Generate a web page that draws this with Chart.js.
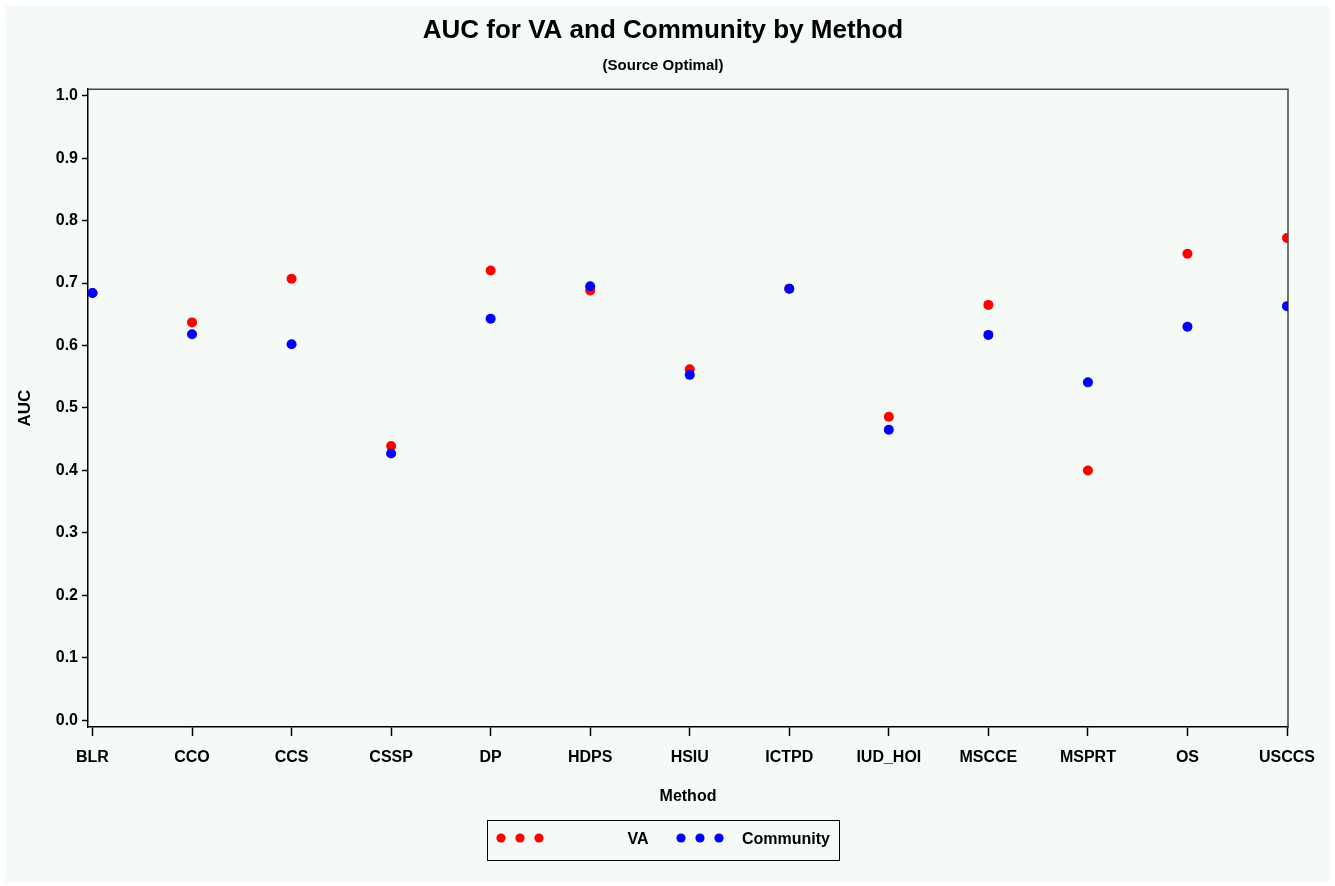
<!DOCTYPE html>
<html>
<head>
<meta charset="utf-8">
<title>AUC for VA and Community by Method</title>
<script src="https://cdn.jsdelivr.net/npm/chart.js@4.4.1/dist/chart.umd.min.js"></script>
<style>
  html, body { margin: 0; padding: 0; background: #ffffff; }
  #wrap { width: 1335px; height: 886px; }
</style>
</head>
<body>
<div id="wrap"><canvas id="grafica" width="1335" height="886"></canvas></div>
<script>
// data
const methods = ['BLR', 'CCO', 'CCS', 'CSSP', 'DP', 'HDPS', 'HSIU', 'ICTPD', 'IUD_HOI', 'MSCCE', 'MSPRT', 'OS', 'USCCS'];
const vaAuc = [0.684, 0.637, 0.707, 0.439, 0.720, 0.688, 0.562, 0.691, 0.486, 0.665, 0.400, 0.747, 0.772];
const communityAuc = [0.684, 0.618, 0.602, 0.427, 0.643, 0.695, 0.553, 0.691, 0.465, 0.617, 0.541, 0.630, 0.663];
const yTicks = [0.0, 0.1, 0.2, 0.3, 0.4, 0.5, 0.6, 0.7, 0.8, 0.9, 1.0];
const seriesNames = ['VA', 'Community'];
const seriesColors = ['#ff0000', '#0000ff'];

const FONT = "'Liberation Sans', Arial, Helvetica, sans-serif";
const BG = '#f6faf7';

const toPoints = (vals) => vals.map((v, i) => ({ x: i, y: v }));

// page background with the thin white frame
const backdrop = {
  id: 'backdrop',
  beforeDraw(chart) {
    const ctx = chart.ctx;
    ctx.save();
    ctx.fillStyle = '#ffffff';
    ctx.fillRect(0, 0, chart.width, chart.height);
    ctx.fillStyle = BG;
    ctx.fillRect(5, 6, chart.width - 10, chart.height - 10);
    ctx.restore();
  },
  beforeDatasetsDraw(chart) {
    // top and right edges of the frame
    const { ctx, chartArea: a } = chart;
    ctx.save();
    ctx.strokeStyle = '#444444';
    ctx.lineWidth = 1.5;
    ctx.beginPath();
    ctx.moveTo(a.left, a.top);
    ctx.lineTo(a.right, a.top);
    ctx.lineTo(a.right, a.bottom);
    ctx.stroke();
    ctx.restore();
  }
};

// boxed legend under the axis: three markers then the name
const legendBox = {
  id: 'legendBox',
  afterDraw(chart) {
    const ctx = chart.ctx;
    const x0 = 487, y0 = 820, w = 352, h = 40;
    const cy = y0 + 18;
    ctx.save();
    ctx.fillStyle = BG;
    ctx.fillRect(x0, y0, w, h);
    ctx.strokeStyle = '#000000';
    ctx.lineWidth = 1;
    ctx.strokeRect(x0 + 0.5, y0 + 0.5, w, h);
    const dotStarts = [x0 + 14, x0 + 194];
    dotStarts.forEach((sx, k) => {
      ctx.fillStyle = seriesColors[k];
      for (let j = 0; j < 3; j++) {
        ctx.beginPath();
        ctx.arc(sx + j * 19, cy, 4.6, 0, Math.PI * 2);
        ctx.fill();
      }
    });
    ctx.fillStyle = '#000000';
    ctx.font = 'bold 16px ' + FONT;
    ctx.textBaseline = 'middle';
    ctx.textAlign = 'center';
    ctx.fillText(seriesNames[0], x0 + 151, cy + 2);
    ctx.textAlign = 'left';
    ctx.fillText(seriesNames[1], x0 + 255, cy + 2);
    ctx.restore();
  }
};

const ctx = document.getElementById('grafica').getContext('2d');
const chart = new Chart(ctx, {
  type: 'scatter',
  data: {
    datasets: [
      {
        label: seriesNames[0],
        data: toPoints(vaAuc),
        backgroundColor: seriesColors[0],
        borderWidth: 0,
        pointRadius: 5,
        pointHoverRadius: 5,
        order: 1
      },
      {
        label: seriesNames[1],
        data: toPoints(communityAuc),
        backgroundColor: seriesColors[1],
        borderWidth: 0,
        pointRadius: 5,
        pointHoverRadius: 5,
        order: 0
      }
    ]
  },
  options: {
    responsive: false,
    animation: false,
    layout: { padding: { left: 0, right: 9, top: 0, bottom: 69 } },
    plugins: {
      legend: { display: false },
      tooltip: { enabled: false },
      title: {
        display: true,
        text: 'AUC for VA and Community by Method',
        color: '#000000',
        font: { family: FONT, size: 26, weight: 'bold' },
        padding: { top: 15, bottom: 11 }
      },
      subtitle: {
        display: true,
        text: '(Source Optimal)',
        color: '#000000',
        font: { family: FONT, size: 15, weight: 'bold' },
        padding: { top: 0, bottom: 14 }
      }
    },
    scales: {
      x: {
        type: 'linear',
        min: -0.045,
        max: 12.01,
        afterBuildTicks: (scale) => { scale.ticks = methods.map((m, i) => ({ value: i })); },
        afterFit: (scale) => { scale.height = 90; },
        grid: { display: true, drawOnChartArea: false, color: '#000000', tickLength: 9, tickWidth: 1.5 },
        border: { display: true, color: '#000000', width: 1.5 },
        ticks: {
          color: '#000000',
          font: { family: FONT, size: 16, weight: 'bold' },
          padding: 12,
          maxRotation: 0,
          autoSkip: false,
          callback: (v) => methods[v]
        },
        title: {
          display: true,
          text: 'Method',
          color: '#000000',
          font: { family: FONT, size: 16, weight: 'bold' },
          padding: { top: 0, bottom: 11 }
        }
      },
      y: {
        min: -0.0107,
        max: 1.0103,
        afterBuildTicks: (scale) => { scale.ticks = yTicks.map((v) => ({ value: v })); },
        afterFit: (scale) => { scale.width = 88; },
        grid: { display: true, drawOnChartArea: false, color: '#000000', tickLength: 6, tickWidth: 1.5 },
        border: { display: true, color: '#000000', width: 1.5 },
        ticks: {
          color: '#000000',
          font: { family: FONT, size: 16, weight: 'bold' },
          padding: 4,
          callback: (v) => v.toFixed(1)
        },
        title: {
          display: true,
          text: 'AUC',
          color: '#000000',
          font: { family: FONT, size: 17, weight: 'bold' },
          padding: { top: 15, bottom: 0 }
        }
      },
      // empty right-hand strip so the titles sit centred like the original
      yRight: {
        position: 'right',
        min: 0,
        max: 1,
        afterFit: (scale) => { scale.width = 38; },
        grid: { display: false },
        border: { display: false },
        ticks: { display: false }
      }
    }
  },
  plugins: [backdrop, legendBox]
});
</script>
</body>
</html>
